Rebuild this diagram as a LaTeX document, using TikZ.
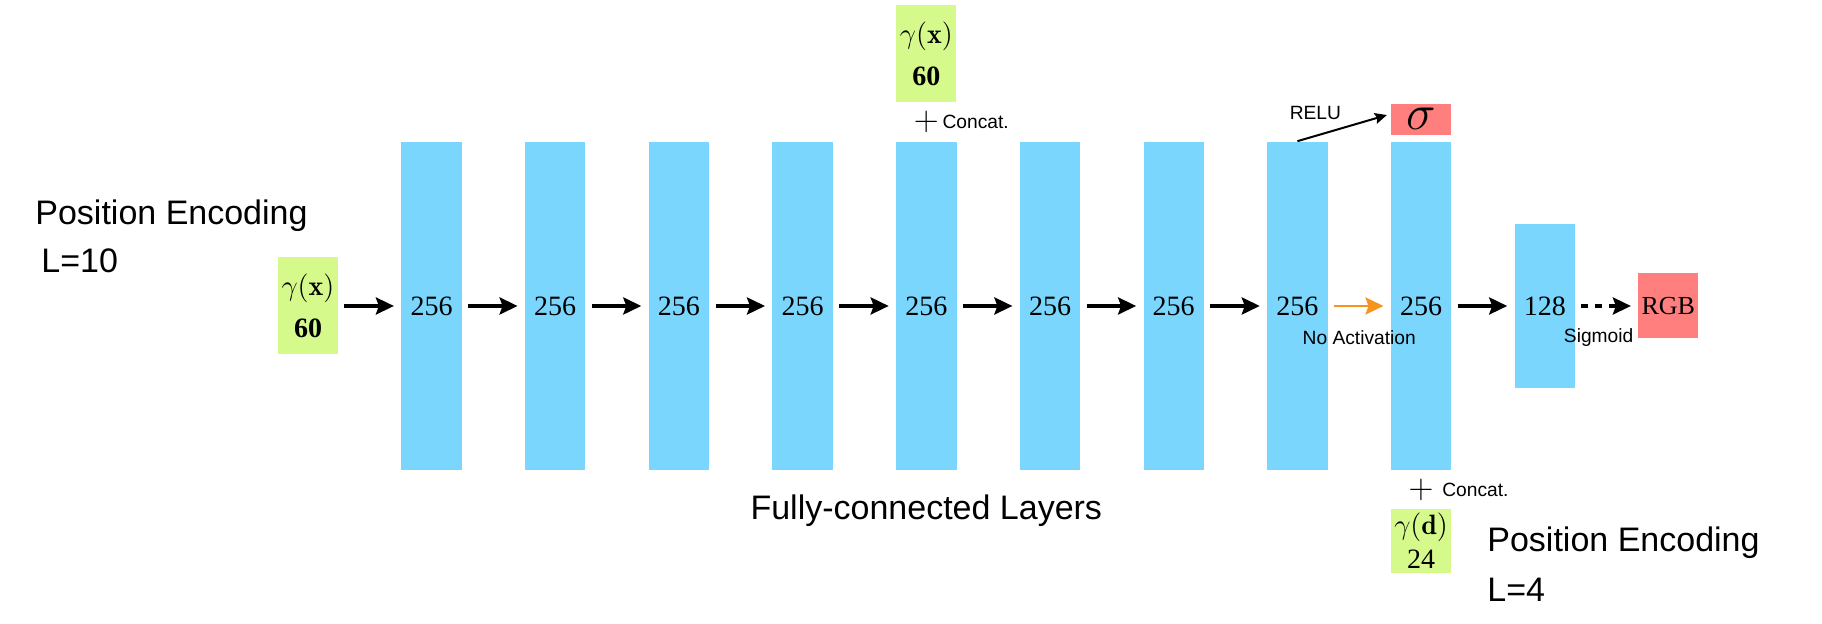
\documentclass[tikz,border=0pt]{standalone}
\usepackage{fontspec}
\setsansfont{Liberation Sans}
\newfontfamily\tiempos{Liberation Serif}
\usepackage{amsmath}
\usepackage{tikz}
\usetikzlibrary{arrows.meta,positioning,calc}
\definecolor{CapaAzul}{HTML}{7AD6FD}
\definecolor{EntradaVerde}{HTML}{D5F98A}
\definecolor{SalidaRoja}{HTML}{FF7F7F}
\definecolor{FlechaNaranja}{HTML}{F7941D}
\newcommand{\cifra}{\tiempos\fontsize{14}{16.8}\selectfont}
\tikzset{
  capa/.style    = {fill=CapaAzul, inner sep=0pt, minimum width=30.2pt,
                    minimum height=164.4pt, font=\cifra},
  capac/.style   = {capa, minimum height=82pt},
  entrada/.style = {fill=EntradaVerde, align=center, inner sep=0pt,
                    minimum width=30pt, minimum height=48.5pt, font=\cifra},
  salida/.style  = {fill=SalidaRoja, align=center, inner sep=0pt,
                    minimum width=30pt, font=\cifra},
  flecha/.style  = {-{Stealth[length=9pt,width=8.5pt,inset=1.5pt]}, line width=1.75pt,
                    shorten <=3pt, shorten >=3.5pt},
  flechan/.style = {flecha, color=FlechaNaranja, line width=1.3pt},
  flechad/.style = {flecha, dash pattern=on 3.5pt off 3.5pt},
  nota/.style    = {font=\sffamily\fontsize{9.6}{11}\selectfont, inner sep=0pt},
  titulo/.style  = {font=\sffamily\fontsize{17}{20}\selectfont, inner sep=0pt},
  mas/.style     = {font=\fontsize{16}{16}\selectfont, inner sep=0pt},
}
\begin{document}
\begin{tikzpicture}[x=1pt, y=1pt, node distance=31.25pt]
  \useasboundingbox (0,0) rectangle (911,312);
  % entrada y capas
  \node[entrada] (gx) at (154,159) {$\gamma(\mathbf{x})$\\[4.3pt]\textbf{60}};
  \node[capa, right=of gx] (c1) {256};
  \node[capa, right=of c1] (c2) {256};
  \node[capa, right=of c2] (c3) {256};
  \node[capa, right=of c3] (c4) {256};
  \node[capa, right=of c4] (c5) {256};
  \node[capa, right=of c5] (c6) {256};
  \node[capa, right=of c6] (c7) {256};
  \node[capa, right=of c7] (c8) {256};
  \node[capa, right=of c8] (c9) {256};
  \node[capac, right=of c9] (c10) {128};
  \node[salida, right=of c10, minimum height=32.5pt] (rgb) {\fontsize{13}{13}\selectfont RGB};
  % entradas extra y sigma
  \node[entrada, above=19.2pt of c5] (gx2) {$\gamma(\mathbf{x})$\\[4.5pt]\textbf{60}};
  \node[mas] (mas1) at ($(c5.north)!0.5!(gx2.south)$) {$+$};
  \node[nota, right=1.5pt of mas1] (cat1) {Concat.};
  \node[salida, above=2.9pt of c9, minimum height=15.7pt] (sig) {\fontsize{24}{24}\selectfont$\sigma$};
  \node[entrada, below=18.7pt of c9, minimum height=32pt] (gd) {$\gamma(\mathbf{d})$\\24};
  \node[mas] (mas2) at ($(c9.south)!0.5!(gd.north)$) {$+$};
  \node[nota, right=4pt of mas2] (cat2) {Concat.};
  % flechas
  \draw[flecha] (gx) -- (c1);
  \draw[flecha] (c1) -- (c2);
  \draw[flecha] (c2) -- (c3);
  \draw[flecha] (c3) -- (c4);
  \draw[flecha] (c4) -- (c5);
  \draw[flecha] (c5) -- (c6);
  \draw[flecha] (c6) -- (c7);
  \draw[flecha] (c7) -- (c8);
  \draw[flechan] (c8) -- (c9);
  \draw[flecha] (c9) -- (c10);
  \draw[flechad] (c10) -- (rgb);
  \draw[-{Stealth[length=6pt,width=5.5pt,inset=1pt]}, line width=1pt, shorten >=2pt] (c8.north) -- (sig.170);
  % textos
  \node[nota] (relu) at ($(c8.north)+(9,14)$) {RELU};
  \node[nota] (noact) at ($(c8.east)!0.5!(c9.west)+(0,-16)$) {No Activation};
  \node[nota] (sigm) at ($(c10.east)!0.5!(rgb.west)+(-4,-16)$) {Sigmoid};
  \node[titulo, anchor=west] (pe1) at (17.5,204) {Position Encoding};
  \node[titulo, anchor=west] (l10) at (20.5,181.5) {L=10};
  \node[titulo] (fcl) at ($(c5.south)+(0,-20)$) {Fully-connected Layers};
  \node[titulo, anchor=west] (pe2) at (743.5,40.5) {Position Encoding};
  \node[titulo, anchor=west] (l4) at (743.5,17) {L=4};
\end{tikzpicture}
\end{document}
